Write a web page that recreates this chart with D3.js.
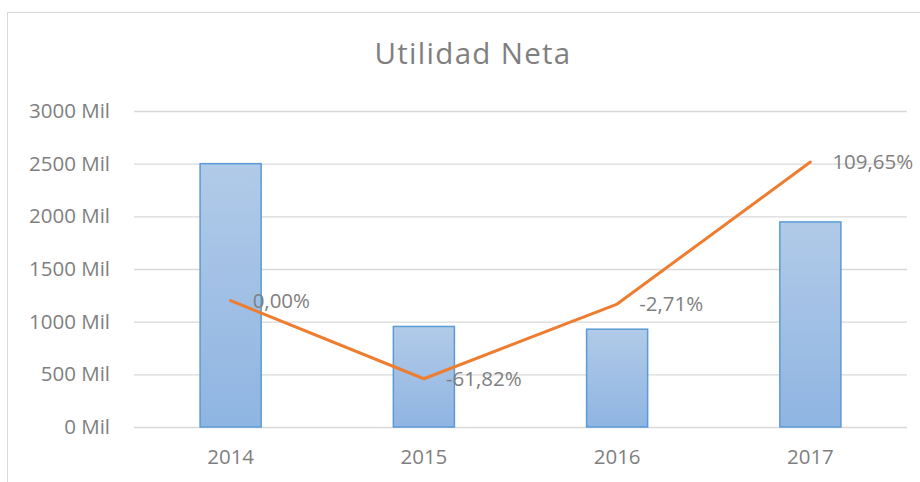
<!DOCTYPE html>
<html>
<head>
<meta charset="utf-8">
<script src="https://cdn.jsdelivr.net/npm/d3@7"></script>
<style>
  body { margin: 0; background: #fff; }
  svg { display: block; font-family: 'Open Sans', sans-serif; }
</style>
</head>
<body>
<svg id="chart" width="920" height="482"></svg>
<script>
const years = ['2014', '2015', '2016', '2017'];
const utilidad = [2500, 954.5, 928.6, 1946.8]; // Mil
const variacion = [0.00, -61.82, -2.71, 109.65]; // %
const yTicks = [0, 500, 1000, 1500, 2000, 2500, 3000];

const width = 920,
  height = 482,
  margin = { top: 111, right: 13, bottom: 55, left: 134 };

const svg = d3.select('#chart');
const grey = '#7f7f7f';

// chart frame (cut off on right and bottom like the original)
svg.append('rect')
  .attr('x', 7.5).attr('y', 12.5)
  .attr('width', width).attr('height', height)
  .attr('fill', 'none')
  .attr('stroke', '#d9d9d9');

const x = d3.scaleBand()
  .domain(years)
  .range([margin.left, width - margin.right])
  .paddingInner(0.684)
  .paddingOuter(0.342);

const y = d3.scaleLinear()
  .domain([0, 3000])
  .range([height - margin.bottom, margin.top]);

// secondary (hidden) axis for the percentage line
const y2 = d3.scaleLinear()
  .domain([-100, 150])
  .range([height - margin.bottom, margin.top]);

const defs = svg.append('defs');
const grad = defs.append('linearGradient')
  .attr('id', 'barGrad')
  .attr('x1', 0).attr('y1', 0).attr('x2', 0).attr('y2', 1);
grad.append('stop').attr('offset', '0%').attr('stop-color', '#b1cae8');
grad.append('stop').attr('offset', '100%').attr('stop-color', '#8fb5e2');

// gridlines + y labels
const yAxis = d3.axisLeft(y)
  .tickValues(yTicks)
  .tickSize(-(width - margin.left - margin.right))
  .tickPadding(24)
  .tickFormat(d => d + ' Mil');

svg.append('g')
  .attr('transform', `translate(${margin.left},0)`)
  .call(yAxis)
  .call(g => g.select('.domain').remove())
  .call(g => g.selectAll('.tick line').attr('stroke', '#d9d9d9').attr('stroke-width', 1.3))
  .call(g => g.selectAll('.tick text')
    .attr('fill', grey)
    .style('font-size', '20.5px')
    .style('font-family', "'Open Sans', sans-serif"));

// bars
svg.append('g')
  .selectAll('rect')
  .data(utilidad)
  .join('rect')
  .attr('x', (d, i) => x(years[i]))
  .attr('y', d => y(d))
  .attr('width', x.bandwidth())
  .attr('height', d => y(0) - y(d))
  .attr('fill', 'url(#barGrad)')
  .attr('stroke', '#5b9bd5')
  .attr('stroke-width', 1.5);

// x labels
const xAxis = d3.axisBottom(x).tickSize(0).tickPadding(22);
svg.append('g')
  .attr('transform', `translate(0,${y(0)})`)
  .call(xAxis)
  .call(g => g.select('.domain').remove())
  .call(g => g.selectAll('.tick text')
    .attr('fill', grey)
    .style('font-size', '20.5px')
    .style('font-family', "'Open Sans', sans-serif"));

// percentage line
const line = d3.line()
  .x((d, i) => x(years[i]) + x.bandwidth() / 2)
  .y(d => y2(d));

svg.append('path')
  .datum(variacion)
  .attr('d', line)
  .attr('fill', 'none')
  .attr('stroke', '#ed7d31')
  .attr('stroke-width', 3)
  .attr('stroke-linejoin', 'round')
  .attr('stroke-linecap', 'round');

const locale = d3.formatLocale({ decimal: ',', thousands: '.', grouping: [3], currency: ['', ''], minus: '-' });
const fmt = v => locale.format('.2f')(v) + '%';

svg.append('g')
  .selectAll('text')
  .data(variacion)
  .join('text')
  .attr('x', (d, i) => x(years[i]) + x.bandwidth() / 2 + 22)
  .attr('y', d => y2(d))
  .attr('dy', '0.36em')
  .attr('fill', grey)
  .style('font-size', '20.5px')
  .text(d => fmt(d));

// title
svg.append('text')
  .attr('x', 473)
  .attr('y', 64)
  .attr('text-anchor', 'middle')
  .attr('fill', grey)
  .style('font-size', '29.5px')
  .style('letter-spacing', '1.3px')
  .text('Utilidad Neta');
</script>
</body>
</html>
